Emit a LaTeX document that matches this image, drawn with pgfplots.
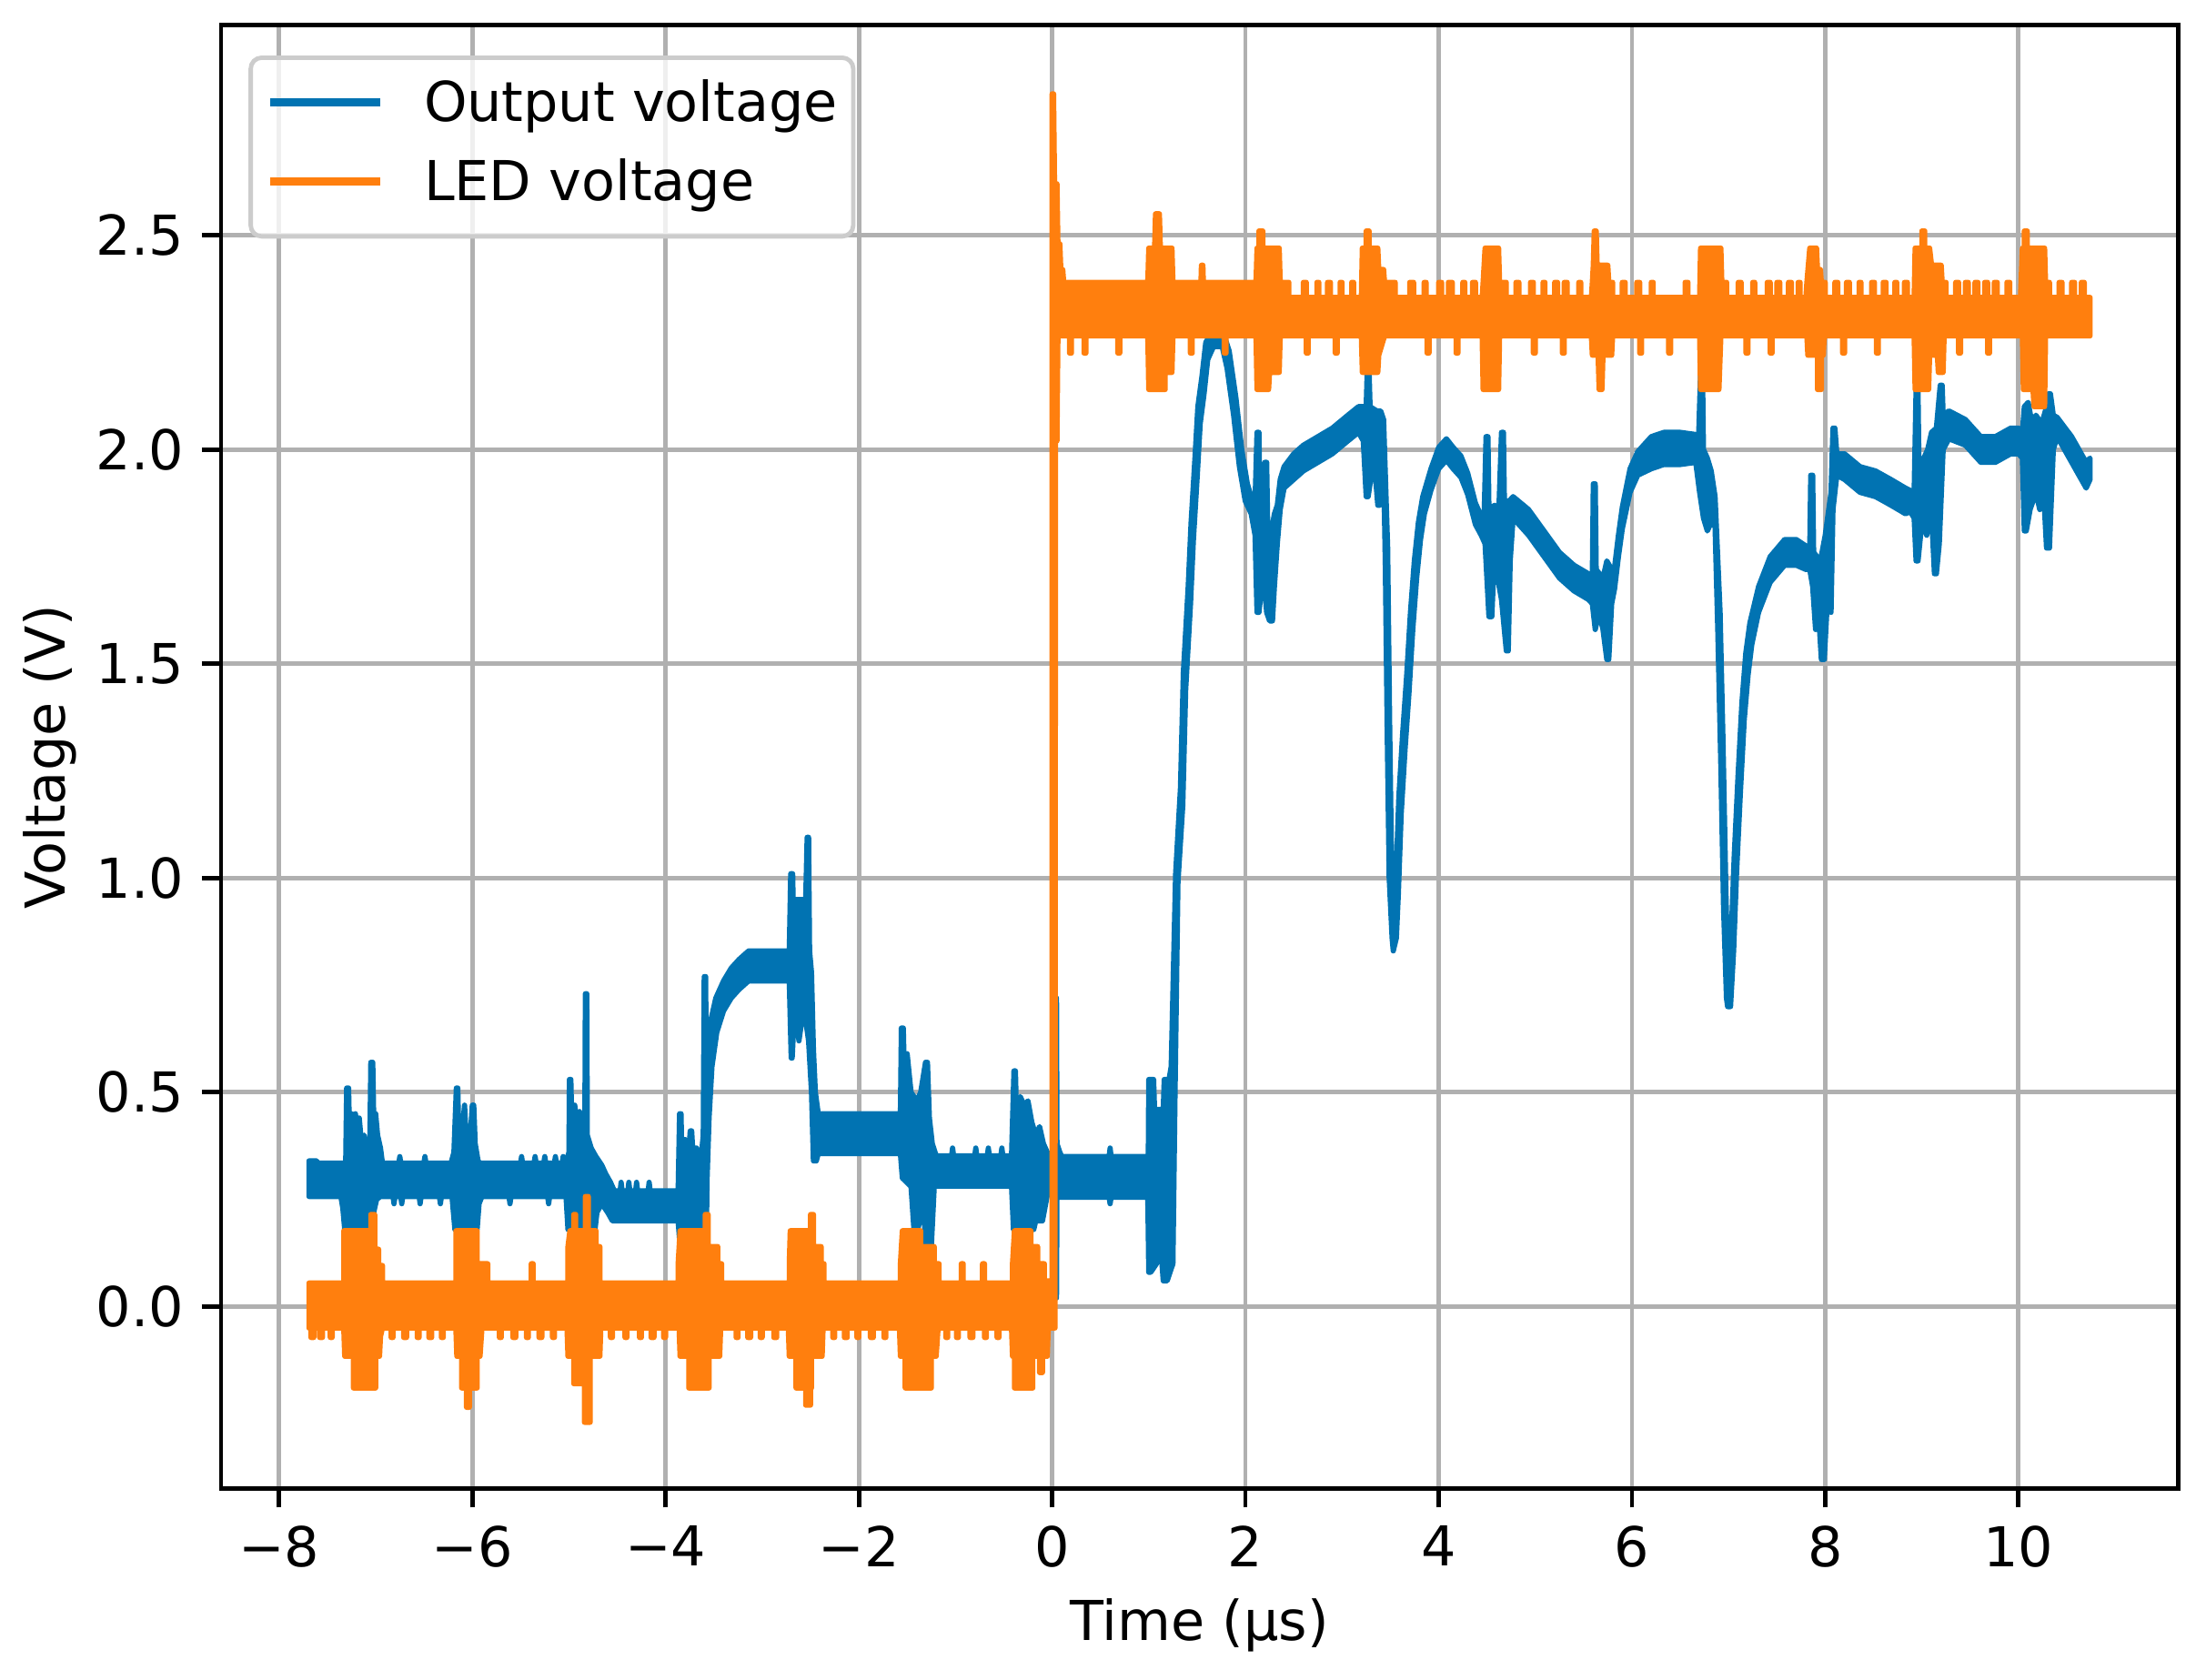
\documentclass[border=0pt]{standalone}
\usepackage{fontspec}
\setmainfont{DejaVu Sans}
\usepackage{pgfplots}
\pgfplotsset{compat=1.18}
\definecolor{cblue}{HTML}{0173B2}
\definecolor{corange}{HTML}{FF7F0E}
\definecolor{gridgray}{HTML}{B0B0B0}
\definecolor{legendgray}{HTML}{CCCCCC}
\begin{document}
\fontsize{10pt}{12pt}\selectfont
\begin{tikzpicture}
\path[use as bounding box] (-40.2pt,-34.8pt) rectangle (361.0pt,270.7pt);
\begin{axis}[
  at={(0,0)}, anchor=south west,
  width=355.9pt, height=266.1pt, scale only axis,
  xmin=-8.6, xmax=11.65, ymin=-0.424, ymax=2.99,
  xtick={-8,-6,-4,-2,0,2,4,6,8,10},
  xticklabels={−8,−6,−4,−2,0,2,4,6,8,10},
  ytick={0,0.5,1,1.5,2,2.5},
  yticklabels={0.0,0.5,1.0,1.5,2.0,2.5},
  xtick pos=bottom, ytick pos=left,
  tick align=outside, major tick length=3.5pt,
  tick style={black, line width=0.8pt},
  axis line style={black, line width=0.8pt},
  grid=major, major grid style={gridgray, line width=0.8pt},
  ticklabel style={font=\fontsize{10pt}{12pt}\selectfont},
  xticklabel style={inner sep=0pt, anchor=north, yshift=-3.2pt},
  yticklabel style={inner sep=0pt, anchor=east, xshift=-3.1pt},
  xlabel={Time (μs)},
  ylabel={Voltage (V)},
  xlabel style={at={([yshift=-27.6pt]axis description cs:0.5,0)}, anchor=base, inner sep=0pt, font=\fontsize{10pt}{12pt}\selectfont},
  ylabel style={at={([xshift=-28.4pt]axis description cs:0,0.5)}, anchor=base, inner sep=0pt, font=\fontsize{10pt}{12pt}\selectfont},
  legend image code/.code={\draw[#1] (0pt,3.5pt) -- (20pt,3.5pt);},
  legend cell align=left,
  legend style={at={(axis description cs:0,1)}, anchor=north west, xshift=5pt, yshift=-5.5pt,
    draw=legendgray, line width=0.8pt, rounded corners=2pt, fill=white, fill opacity=0.8, text opacity=1,
    inner xsep=2.8pt, inner ysep=4.15pt, row sep=4.4pt, column sep=7.2pt,
    nodes={inner sep=0pt, text height=7.5pt, text depth=2.4pt, anchor=base west},
    font=\fontsize{10pt}{12pt}\selectfont},
]
% ---------- Output voltage (blue): noise band as upper envelope then lower envelope ----------
\addplot[draw=cblue, fill=cblue, line width=0.95pt, line join=round, forget plot] coordinates {
(-7.69,0.34) (-7.61,0.34) (-7.60,0.335) (-7.31,0.335)
(-7.30,0.51) (-7.28,0.51) (-7.27,0.40) (-7.25,0.45) (-7.23,0.40) (-7.21,0.45) (-7.19,0.42) (-7.17,0.44) (-7.15,0.39) (-7.12,0.40) (-7.09,0.37) (-7.06,0.38) (-7.05,0.57) (-7.03,0.57) (-7.02,0.44) (-7.00,0.45) (-6.98,0.40) (-6.95,0.37) (-6.93,0.335)
(-6.76,0.335) (-6.75,0.35) (-6.74,0.335) (-6.50,0.335) (-6.49,0.35) (-6.48,0.335)
(-6.22,0.335) (-6.19,0.36) (-6.165,0.51) (-6.15,0.51) (-6.14,0.40) (-6.10,0.42) (-6.08,0.47) (-6.06,0.38) (-6.02,0.40) (-6.00,0.47) (-5.985,0.47) (-5.97,0.38) (-5.94,0.34) (-5.92,0.335)
(-5.50,0.335) (-5.49,0.35) (-5.48,0.335) (-5.36,0.335) (-5.35,0.35) (-5.34,0.335) (-5.26,0.335) (-5.25,0.35) (-5.24,0.335) (-5.15,0.335) (-5.14,0.35) (-5.13,0.335) (-5.07,0.335) (-5.06,0.35) (-5.05,0.335)
(-5.03,0.335) (-5.00,0.36) (-4.995,0.53) (-4.98,0.53) (-4.97,0.42) (-4.94,0.47) (-4.92,0.43) (-4.89,0.455) (-4.86,0.40) (-4.835,0.42) (-4.83,0.73) (-4.815,0.73) (-4.81,0.40) (-4.77,0.37) (-4.72,0.35) (-4.66,0.33) (-4.62,0.31) (-4.57,0.29) (-4.53,0.27)
(-4.47,0.27) (-4.46,0.29) (-4.45,0.27) (-4.39,0.27) (-4.38,0.29) (-4.37,0.27) (-4.31,0.27) (-4.30,0.29) (-4.29,0.27) (-4.18,0.27) (-4.17,0.29) (-4.16,0.27)
(-3.87,0.27) (-3.855,0.45) (-3.84,0.45) (-3.83,0.33) (-3.80,0.39) (-3.76,0.36) (-3.745,0.41) (-3.73,0.41) (-3.72,0.37) (-3.68,0.37) (-3.64,0.33) (-3.61,0.40) (-3.60,0.77) (-3.585,0.77) (-3.58,0.55) (-3.57,0.62) (-3.53,0.67) (-3.48,0.72) (-3.40,0.76) (-3.32,0.79) (-3.24,0.81) (-3.14,0.83) (-2.72,0.83)
(-2.705,1.01) (-2.685,1.01) (-2.68,0.95) (-2.55,0.95) (-2.535,1.095) (-2.52,1.095) (-2.51,0.83) (-2.49,0.78) (-2.47,0.60) (-2.45,0.50) (-2.42,0.45)
(-1.57,0.45) (-1.56,0.65) (-1.54,0.65) (-1.53,0.55) (-1.50,0.59) (-1.46,0.50) (-1.40,0.48) (-1.36,0.50) (-1.31,0.57) (-1.29,0.57) (-1.27,0.44) (-1.24,0.38) (-1.20,0.352)
(-1.04,0.352) (-1.03,0.37) (-1.02,0.352) (-0.80,0.352) (-0.79,0.37) (-0.78,0.352) (-0.67,0.352) (-0.66,0.37) (-0.65,0.352) (-0.53,0.352) (-0.52,0.37) (-0.51,0.352)
(-0.42,0.352) (-0.395,0.55) (-0.38,0.55) (-0.37,0.46) (-0.33,0.49) (-0.29,0.47) (-0.25,0.48) (-0.21,0.43) (-0.17,0.40) (-0.13,0.42) (-0.09,0.38) (-0.05,0.36) (0.02,0.35)
(0.03,0.72) (0.045,0.72) (0.05,0.38) (0.08,0.36) (0.10,0.35)
(0.59,0.35) (0.60,0.37) (0.61,0.35)
(0.995,0.35) (1.00,0.53) (1.05,0.53) (1.06,0.46) (1.15,0.46) (1.16,0.53) (1.21,0.53)
(1.232,0.56) (1.278,1.01) (1.328,1.21) (1.358,1.48) (1.408,1.68) (1.438,1.83) (1.478,1.98) (1.508,2.10) (1.55,2.17) (1.59,2.25) (1.67,2.28) (1.76,2.28) (1.832,2.23) (1.902,2.12) (1.962,2.00) (2.02,1.92) (2.06,1.89)
(2.10,1.88) (2.12,2.04) (2.14,2.04) (2.15,1.86) (2.18,1.84) (2.20,1.97) (2.22,1.97) (2.23,1.83) (2.27,1.81) (2.30,1.85) (2.33,1.87) (2.36,1.93) (2.40,1.96)
(2.50,1.99) (2.60,2.01) (2.75,2.03) (2.90,2.05) (3.06,2.08) (3.17,2.10) (3.22,2.10)
(3.25,2.10) (3.26,2.18) (3.28,2.18) (3.29,2.10) (3.36,2.09) (3.40,2.09) (3.43,2.07)
(3.472,1.77) (3.492,1.37) (3.512,1.04) (3.535,0.89) (3.545,0.90) (3.558,1.00) (3.588,1.19) (3.628,1.34) (3.668,1.47) (3.708,1.62) (3.748,1.74) (3.79,1.83) (3.835,1.89) (3.92,1.955) (4.0,2.005) (4.08,2.025) (4.15,2.005) (4.23,1.985) (4.30,1.945) (4.38,1.875) (4.44,1.845)
(4.47,1.84) (4.49,2.03) (4.51,2.03) (4.52,1.86) (4.58,1.87) (4.62,1.84) (4.65,2.04) (4.67,2.04) (4.68,1.88) (4.73,1.88) (4.77,1.89)
(4.93,1.86) (5.09,1.81) (5.25,1.76) (5.40,1.73) (5.55,1.71)
(5.59,1.70) (5.60,1.92) (5.62,1.92) (5.63,1.72) (5.70,1.70) (5.74,1.74) (5.79,1.72)
(5.82,1.725) (5.86,1.80) (5.90,1.865) (5.98,1.955) (6.06,1.995) (6.20,2.03) (6.33,2.04) (6.50,2.04) (6.66,2.035) (6.69,2.03)
(6.71,2.18) (6.73,2.18) (6.74,2.00) (6.78,1.98) (6.82,1.95) (6.86,1.89)
(6.912,1.62) (6.942,1.32) (6.972,0.97) (6.995,0.76) (7.005,0.74) (7.028,0.87) (7.058,1.05) (7.098,1.24) (7.138,1.41) (7.178,1.525) (7.22,1.595) (7.31,1.68) (7.43,1.75) (7.58,1.79) (7.70,1.79) (7.80,1.775)
(7.84,1.77) (7.85,1.94) (7.87,1.94) (7.88,1.76) (7.95,1.74) (8.00,1.80) (8.06,1.90) (8.08,2.05) (8.10,2.05) (8.12,1.99)
(8.20,1.99) (8.36,1.96) (8.52,1.95) (8.68,1.93) (8.83,1.91) (8.92,1.90)
(8.94,2.14) (8.96,2.14) (8.97,1.95) (9.02,1.98) (9.06,2.00) (9.10,2.04) (9.15,2.05) (9.19,2.15) (9.21,2.15) (9.22,2.08) (9.28,2.09)
(9.45,2.07) (9.61,2.03) (9.76,2.03) (9.92,2.05) (10.0,2.05)
(10.04,2.04) (10.06,2.10) (10.10,2.11) (10.14,2.06) (10.18,2.08) (10.24,2.06) (10.29,2.10) (10.31,2.13) (10.33,2.13) (10.36,2.08) (10.40,2.075)
(10.55,2.03) (10.65,1.99) (10.70,1.97) (10.74,1.98)
(10.74,1.93) (10.70,1.91) (10.65,1.93) (10.55,1.97) (10.40,2.03)
(10.36,2.00) (10.32,1.77) (10.29,1.77) (10.26,1.90) (10.22,1.86) (10.18,1.90) (10.12,1.86) (10.08,1.81) (10.06,1.81) (10.04,1.98) (10.0,1.99)
(9.92,1.99) (9.76,1.97) (9.61,1.97) (9.45,2.01) (9.28,2.025)
(9.22,2.0) (9.18,1.78) (9.15,1.71) (9.13,1.71) (9.10,1.85) (9.05,1.80) (9.00,1.83) (8.96,1.74) (8.94,1.74) (8.92,1.84) (8.88,1.855)
(8.83,1.85) (8.68,1.87) (8.52,1.89) (8.36,1.90) (8.20,1.93)
(8.12,1.94) (8.08,1.86) (8.06,1.62) (8.03,1.68) (7.99,1.51) (7.96,1.51) (7.93,1.62) (7.90,1.58) (7.87,1.68) (7.84,1.72) (7.80,1.72)
(7.70,1.73) (7.58,1.73) (7.43,1.69) (7.31,1.62) (7.24,1.545) (7.202,1.475) (7.162,1.37) (7.122,1.20) (7.082,1.01) (7.052,0.83) (7.02,0.70) (6.99,0.70) (6.978,0.72) (6.948,0.93) (6.918,1.28) (6.888,1.58) (6.86,1.82)
(6.82,1.83) (6.78,1.81) (6.74,1.84) (6.70,1.90) (6.66,1.97)
(6.50,1.965) (6.33,1.965) (6.20,1.955) (6.06,1.94) (5.98,1.90) (5.90,1.815) (5.86,1.75) (5.82,1.675)
(5.79,1.64) (5.76,1.51) (5.74,1.51) (5.70,1.58) (5.66,1.62) (5.62,1.58) (5.59,1.64) (5.55,1.65)
(5.40,1.67) (5.25,1.70) (5.09,1.75) (4.93,1.80) (4.77,1.84)
(4.74,1.74) (4.72,1.53) (4.70,1.53) (4.65,1.65) (4.61,1.70) (4.57,1.72) (4.55,1.61) (4.52,1.61) (4.48,1.78) (4.44,1.80)
(4.38,1.825) (4.30,1.895) (4.23,1.935) (4.15,1.955) (4.08,1.975) (4.0,1.955) (3.92,1.905) (3.852,1.85) (3.812,1.79) (3.772,1.70) (3.732,1.58) (3.692,1.43) (3.652,1.30) (3.612,1.15) (3.582,0.96) (3.562,0.86) (3.53,0.83) (3.518,0.86) (3.488,1.00) (3.468,1.33) (3.448,1.73) (3.435,1.90)
(3.43,1.98) (3.39,1.87) (3.37,1.87) (3.33,1.98) (3.27,1.89) (3.25,1.89) (3.22,2.02) (3.17,2.04)
(3.06,2.02) (2.90,1.99) (2.75,1.97) (2.60,1.95) (2.50,1.93) (2.40,1.91)
(2.36,1.86) (2.33,1.78) (2.30,1.68) (2.28,1.60) (2.25,1.60) (2.22,1.62) (2.19,1.70) (2.16,1.66) (2.14,1.62) (2.12,1.62) (2.10,1.80) (2.06,1.85)
(1.998,1.88) (1.938,1.96) (1.878,2.08) (1.81,2.19) (1.76,2.24) (1.67,2.24) (1.61,2.21) (1.572,2.13) (1.532,2.06) (1.502,1.94) (1.462,1.79) (1.432,1.64) (1.382,1.44) (1.352,1.17) (1.302,0.99) (1.272,0.50)
(1.25,0.10) (1.19,0.06) (1.15,0.06) (1.12,0.15) (1.08,0.10) (1.02,0.08) (1.00,0.08) (0.99,0.255)
(0.61,0.255) (0.60,0.24) (0.59,0.255) (0.05,0.255)
(0.045,0.02) (0.03,0.02) (0.02,0.28)
(-0.02,0.28) (-0.05,0.26) (-0.10,0.20) (-0.17,0.20) (-0.19,0.18) (-0.40,0.18) (-0.42,0.281)
(-1.20,0.281)
(-1.22,0.28) (-1.25,0.14) (-1.31,0.14) (-1.33,0.24) (-1.39,0.18) (-1.43,0.18) (-1.46,0.28) (-1.55,0.30) (-1.57,0.357)
(-2.42,0.357) (-2.44,0.34) (-2.47,0.34) (-2.49,0.50) (-2.52,0.62) (-2.57,0.70) (-2.62,0.62) (-2.66,0.72) (-2.69,0.58) (-2.70,0.58) (-2.72,0.76)
(-3.14,0.76) (-3.24,0.74) (-3.32,0.72) (-3.40,0.69) (-3.47,0.64) (-3.52,0.56) (-3.55,0.44) (-3.57,0.30) (-3.58,0.14) (-3.85,0.14) (-3.87,0.20)
(-4.55,0.20) (-4.60,0.22) (-4.66,0.24) (-4.71,0.22) (-4.73,0.18) (-5.01,0.18) (-5.03,0.257)
(-5.20,0.257) (-5.21,0.24) (-5.22,0.257) (-5.60,0.257) (-5.61,0.24) (-5.62,0.257)
(-5.90,0.257) (-5.93,0.24) (-5.95,0.18) (-6.18,0.18) (-6.21,0.257)
(-6.32,0.257) (-6.33,0.24) (-6.34,0.257) (-6.53,0.257) (-6.54,0.24) (-6.55,0.257) (-6.72,0.257) (-6.73,0.24) (-6.74,0.257) (-6.80,0.257) (-6.81,0.24) (-6.82,0.257)
(-6.95,0.257) (-6.99,0.25) (-7.02,0.22) (-7.03,0.18) (-7.32,0.18) (-7.34,0.23) (-7.36,0.257) (-7.69,0.257)
} -- cycle;
% ---------- LED voltage (orange) ----------
\addplot[draw=corange, fill=corange, line width=0.95pt, line join=round, forget plot] coordinates {
(-7.69,0.055) (-7.33,0.055)
(-7.33,0.177) (-7.05,0.177) (-7.05,0.215) (-7.01,0.215) (-7.01,0.134) (-6.97,0.134) (-6.97,0.096) (-6.93,0.096) (-6.93,0.055)
(-6.17,0.055)
(-6.17,0.177) (-5.95,0.177) (-5.95,0.10) (-5.84,0.10) (-5.84,0.055)
(-5.39,0.055) (-5.39,0.10) (-5.37,0.10) (-5.37,0.055)
(-5.01,0.055)
(-5.01,0.14) (-4.99,0.177) (-4.95,0.177) (-4.95,0.215) (-4.93,0.215) (-4.93,0.177) (-4.83,0.177) (-4.83,0.257) (-4.80,0.257) (-4.80,0.177) (-4.72,0.177) (-4.72,0.14) (-4.68,0.14) (-4.68,0.055)
(-3.87,0.055)
(-3.87,0.10) (-3.85,0.177) (-3.59,0.177) (-3.59,0.215) (-3.56,0.215) (-3.56,0.14) (-3.46,0.14) (-3.46,0.10) (-3.42,0.10) (-3.42,0.055)
(-2.72,0.055)
(-2.72,0.10) (-2.71,0.177) (-2.50,0.177) (-2.50,0.215) (-2.47,0.215) (-2.47,0.14) (-2.39,0.14) (-2.39,0.10) (-2.36,0.10) (-2.36,0.055)
(-1.57,0.055)
(-1.57,0.10) (-1.55,0.177) (-1.36,0.177) (-1.36,0.14) (-1.22,0.14) (-1.22,0.10) (-1.17,0.10) (-1.17,0.055)
(-0.94,0.055) (-0.94,0.10) (-0.92,0.10) (-0.92,0.055)
(-0.72,0.055) (-0.72,0.10) (-0.70,0.10) (-0.70,0.055)
(-0.41,0.055) (-0.41,0.10) (-0.39,0.177) (-0.22,0.177) (-0.22,0.14) (-0.15,0.14) (-0.15,0.10) (-0.08,0.10) (-0.08,0.06)
(0.0,0.06) (0.0,2.83) (0.015,2.83) (0.025,2.62) (0.05,2.62) (0.06,2.48) (0.08,2.48) (0.09,2.42) (0.11,2.42) (0.12,2.39)
(0.99,2.39)
(1.0,2.47) (1.06,2.47) (1.07,2.55) (1.11,2.55) (1.12,2.47) (1.24,2.47) (1.25,2.39)
(1.54,2.39) (1.545,2.43) (1.56,2.43) (1.565,2.39)
(2.11,2.39) (2.12,2.47) (2.14,2.47) (2.14,2.51) (2.18,2.51) (2.18,2.47) (2.35,2.47) (2.36,2.39)
(2.45,2.39) (2.45,2.355) (2.60,2.355) (2.60,2.39) (2.63,2.39) (2.63,2.355) (2.74,2.355) (2.74,2.39) (2.76,2.39) (2.76,2.355) (2.85,2.355) (2.85,2.39) (2.88,2.39) (2.88,2.355) (2.98,2.355) (2.98,2.39) (3.00,2.39) (3.00,2.355) (3.10,2.355) (3.10,2.39) (3.12,2.39) (3.12,2.355)
(3.20,2.355) (3.21,2.47) (3.25,2.47) (3.25,2.51) (3.28,2.51) (3.28,2.47) (3.37,2.47) (3.38,2.42) (3.43,2.42) (3.44,2.39) (3.55,2.39) (3.55,2.355)
(3.70,2.355) (3.70,2.39) (3.74,2.39) (3.74,2.355) (3.85,2.355) (3.85,2.39) (3.87,2.39) (3.87,2.355) (4.00,2.355) (4.00,2.39) (4.03,2.39) (4.03,2.355) (4.10,2.355) (4.10,2.39) (4.14,2.39) (4.14,2.355) (4.25,2.355) (4.25,2.39) (4.27,2.39) (4.27,2.355) (4.35,2.355) (4.35,2.39) (4.38,2.39) (4.38,2.355)
(4.45,2.355) (4.46,2.39) (4.48,2.47) (4.62,2.47) (4.63,2.39) (4.70,2.39) (4.70,2.355)
(4.80,2.355) (4.80,2.39) (4.83,2.39) (4.83,2.355) (4.95,2.355) (4.95,2.39) (4.98,2.39) (4.98,2.355) (5.08,2.355) (5.08,2.39) (5.10,2.39) (5.10,2.355) (5.20,2.355) (5.20,2.39) (5.23,2.39) (5.23,2.355) (5.30,2.355) (5.30,2.39) (5.33,2.39) (5.33,2.355) (5.45,2.355) (5.45,2.39) (5.47,2.39) (5.47,2.355)
(5.58,2.355) (5.59,2.39) (5.60,2.43) (5.61,2.51) (5.63,2.51) (5.64,2.43) (5.75,2.43) (5.76,2.39) (5.80,2.39) (5.80,2.355)
(5.90,2.355) (5.90,2.39) (5.93,2.39) (5.93,2.355) (6.05,2.355) (6.05,2.39) (6.08,2.39) (6.08,2.355) (6.20,2.355) (6.20,2.39) (6.22,2.39) (6.22,2.355) (6.55,2.355) (6.55,2.39) (6.58,2.39) (6.58,2.355)
(6.70,2.355) (6.71,2.47) (6.92,2.47) (6.93,2.39) (6.98,2.39) (6.98,2.355)
(7.10,2.355) (7.10,2.39) (7.13,2.39) (7.13,2.355) (7.25,2.355) (7.25,2.39) (7.27,2.39) (7.27,2.355) (7.40,2.355) (7.40,2.39) (7.43,2.39) (7.43,2.355) (7.50,2.355) (7.50,2.39) (7.53,2.39) (7.53,2.355) (7.62,2.355) (7.62,2.39) (7.65,2.39) (7.65,2.355) (7.72,2.355) (7.72,2.39) (7.74,2.39) (7.74,2.355)
(7.80,2.355) (7.81,2.39) (7.84,2.47) (7.91,2.47) (7.92,2.42) (7.95,2.42) (7.96,2.39) (8.00,2.39) (8.00,2.355)
(8.10,2.355) (8.10,2.39) (8.13,2.39) (8.13,2.355) (8.22,2.355) (8.22,2.39) (8.25,2.39) (8.25,2.355) (8.35,2.355) (8.35,2.39) (8.37,2.39) (8.37,2.355) (8.48,2.355) (8.48,2.39) (8.51,2.39) (8.51,2.355) (8.60,2.355) (8.60,2.39) (8.63,2.39) (8.63,2.355) (8.72,2.355) (8.72,2.39) (8.74,2.39) (8.74,2.355) (8.82,2.355) (8.82,2.39) (8.85,2.39) (8.85,2.355)
(8.92,2.355) (8.93,2.47) (9.00,2.47) (9.00,2.51) (9.03,2.51) (9.03,2.47) (9.08,2.47) (9.10,2.43) (9.20,2.43) (9.21,2.39) (9.25,2.39) (9.25,2.355)
(9.35,2.355) (9.35,2.39) (9.38,2.39) (9.38,2.355) (9.45,2.355) (9.45,2.39) (9.48,2.39) (9.48,2.355) (9.55,2.355) (9.55,2.39) (9.58,2.39) (9.58,2.355) (9.65,2.355) (9.65,2.39) (9.68,2.39) (9.68,2.355) (9.75,2.355) (9.75,2.39) (9.78,2.39) (9.78,2.355) (9.88,2.355) (9.88,2.39) (9.91,2.39) (9.91,2.355)
(10.02,2.355) (10.04,2.47) (10.06,2.47) (10.06,2.51) (10.09,2.51) (10.09,2.47) (10.27,2.47) (10.28,2.39) (10.32,2.39) (10.32,2.355)
(10.42,2.355) (10.42,2.39) (10.45,2.39) (10.45,2.355) (10.55,2.355) (10.55,2.39) (10.58,2.39) (10.58,2.355) (10.65,2.355) (10.65,2.39) (10.68,2.39) (10.68,2.355) (10.74,2.355)
(10.74,2.265)
(10.28,2.265) (10.27,2.10) (10.16,2.10) (10.15,2.14) (10.05,2.14) (10.04,2.265)
(9.70,2.265) (9.70,2.225) (9.68,2.225) (9.68,2.265) (9.40,2.265) (9.40,2.225) (9.38,2.225) (9.38,2.265)
(9.23,2.265) (9.22,2.18) (9.17,2.18) (9.16,2.22) (9.08,2.22) (9.07,2.14) (8.93,2.14) (8.92,2.265)
(8.55,2.265) (8.55,2.225) (8.53,2.225) (8.53,2.265) (8.20,2.265) (8.20,2.225) (8.18,2.225) (8.18,2.265)
(7.99,2.265) (7.98,2.22) (7.96,2.22) (7.96,2.14) (7.92,2.14) (7.92,2.22) (7.82,2.22) (7.81,2.265)
(7.45,2.265) (7.45,2.225) (7.43,2.225) (7.43,2.265) (7.20,2.265) (7.20,2.225) (7.18,2.225) (7.18,2.265)
(6.92,2.265) (6.90,2.14) (6.71,2.14) (6.70,2.265)
(6.40,2.265) (6.40,2.225) (6.38,2.225) (6.38,2.265) (6.10,2.265) (6.10,2.225) (6.08,2.225) (6.08,2.265)
(5.80,2.265) (5.79,2.22) (5.70,2.22) (5.69,2.14) (5.66,2.14) (5.65,2.22) (5.59,2.22) (5.58,2.265)
(5.30,2.265) (5.30,2.225) (5.28,2.225) (5.28,2.265) (5.00,2.265) (5.00,2.225) (4.98,2.225) (4.98,2.265)
(4.63,2.265) (4.62,2.14) (4.46,2.14) (4.45,2.265)
(4.20,2.265) (4.20,2.225) (4.18,2.225) (4.18,2.265) (3.90,2.265) (3.90,2.225) (3.88,2.225) (3.88,2.265)
(3.44,2.265) (3.38,2.22) (3.37,2.18) (3.21,2.18) (3.20,2.265)
(2.95,2.265) (2.95,2.225) (2.93,2.225) (2.93,2.265) (2.65,2.265) (2.65,2.225) (2.63,2.225) (2.63,2.265)
(2.36,2.265) (2.35,2.18) (2.25,2.18) (2.24,2.14) (2.12,2.14) (2.11,2.265)
(1.80,2.265) (1.80,2.225) (1.78,2.225) (1.78,2.265) (1.45,2.265) (1.45,2.225) (1.43,2.225) (1.43,2.265)
(1.25,2.265) (1.24,2.18) (1.17,2.18) (1.17,2.14) (1.00,2.14) (0.99,2.265)
(0.70,2.265) (0.70,2.225) (0.68,2.225) (0.68,2.265) (0.35,2.265) (0.35,2.225) (0.33,2.225) (0.33,2.265) (0.20,2.265) (0.20,2.225) (0.18,2.225) (0.18,2.265)
(0.06,2.265) (0.05,2.02) (0.035,2.02) (0.03,-0.05)
(-0.04,-0.05) (-0.05,-0.116) (-0.10,-0.116) (-0.10,-0.154) (-0.13,-0.154) (-0.13,-0.116) (-0.20,-0.116) (-0.20,-0.19) (-0.39,-0.19) (-0.39,-0.116) (-0.41,-0.116) (-0.42,-0.05)
(-0.55,-0.05) (-0.55,-0.072) (-0.57,-0.072) (-0.57,-0.05) (-0.68,-0.05) (-0.68,-0.072) (-0.70,-0.072) (-0.70,-0.05) (-0.82,-0.05) (-0.82,-0.072) (-0.85,-0.072) (-0.85,-0.05) (-0.97,-0.05) (-0.97,-0.072) (-0.99,-0.072) (-0.99,-0.05) (-1.08,-0.05) (-1.08,-0.072) (-1.10,-0.072) (-1.10,-0.05)
(-1.18,-0.05) (-1.20,-0.116) (-1.25,-0.116) (-1.25,-0.19) (-1.52,-0.19) (-1.52,-0.116) (-1.57,-0.116) (-1.58,-0.05)
(-1.72,-0.05) (-1.72,-0.072) (-1.74,-0.072) (-1.74,-0.05) (-1.85,-0.05) (-1.85,-0.072) (-1.88,-0.072) (-1.88,-0.05) (-2.00,-0.05) (-2.00,-0.072) (-2.02,-0.072) (-2.02,-0.05) (-2.12,-0.05) (-2.12,-0.072) (-2.15,-0.072) (-2.15,-0.05) (-2.25,-0.05) (-2.25,-0.072) (-2.27,-0.072) (-2.27,-0.05)
(-2.37,-0.05) (-2.38,-0.116) (-2.49,-0.116) (-2.49,-0.19) (-2.50,-0.19) (-2.50,-0.23) (-2.55,-0.23) (-2.55,-0.19) (-2.65,-0.19) (-2.65,-0.116) (-2.72,-0.116) (-2.73,-0.05)
(-2.85,-0.05) (-2.85,-0.072) (-2.88,-0.072) (-2.88,-0.05) (-3.00,-0.05) (-3.00,-0.072) (-3.02,-0.072) (-3.02,-0.05) (-3.12,-0.05) (-3.12,-0.072) (-3.15,-0.072) (-3.15,-0.05) (-3.25,-0.05) (-3.25,-0.072) (-3.27,-0.072) (-3.27,-0.05)
(-3.43,-0.05) (-3.44,-0.116) (-3.55,-0.116) (-3.55,-0.19) (-3.76,-0.19) (-3.76,-0.116) (-3.85,-0.116) (-3.86,-0.05)
(-4.00,-0.05) (-4.00,-0.072) (-4.02,-0.072) (-4.02,-0.05) (-4.12,-0.05) (-4.12,-0.072) (-4.15,-0.072) (-4.15,-0.05) (-4.25,-0.05) (-4.25,-0.072) (-4.27,-0.072) (-4.27,-0.05) (-4.40,-0.05) (-4.40,-0.072) (-4.42,-0.072) (-4.42,-0.05) (-4.55,-0.05) (-4.55,-0.072) (-4.57,-0.072) (-4.57,-0.05)
(-4.67,-0.05) (-4.68,-0.116) (-4.78,-0.116) (-4.78,-0.27) (-4.84,-0.27) (-4.84,-0.18) (-4.95,-0.18) (-4.95,-0.116) (-5.01,-0.116) (-5.02,-0.05)
(-5.15,-0.05) (-5.15,-0.072) (-5.17,-0.072) (-5.17,-0.05) (-5.28,-0.05) (-5.28,-0.072) (-5.31,-0.072) (-5.31,-0.05) (-5.42,-0.05) (-5.42,-0.072) (-5.44,-0.072) (-5.44,-0.05) (-5.55,-0.05) (-5.55,-0.072) (-5.58,-0.072) (-5.58,-0.05) (-5.70,-0.05) (-5.70,-0.072) (-5.72,-0.072) (-5.72,-0.05)
(-5.90,-0.05) (-5.92,-0.116) (-5.95,-0.116) (-5.95,-0.19) (-6.03,-0.19) (-6.03,-0.235) (-6.06,-0.235) (-6.06,-0.19) (-6.11,-0.19) (-6.11,-0.116) (-6.16,-0.116) (-6.17,-0.05)
(-6.30,-0.05) (-6.30,-0.072) (-6.32,-0.072) (-6.32,-0.05) (-6.42,-0.05) (-6.42,-0.072) (-6.45,-0.072) (-6.45,-0.05) (-6.55,-0.05) (-6.55,-0.072) (-6.57,-0.072) (-6.57,-0.05) (-6.68,-0.05) (-6.68,-0.072) (-6.71,-0.072) (-6.71,-0.05) (-6.82,-0.05) (-6.82,-0.072) (-6.84,-0.072) (-6.84,-0.05)
(-6.93,-0.05) (-6.95,-0.07) (-6.96,-0.116) (-7.00,-0.116) (-7.00,-0.19) (-7.23,-0.19) (-7.23,-0.116) (-7.32,-0.116) (-7.33,-0.05)
(-7.45,-0.05) (-7.45,-0.072) (-7.47,-0.072) (-7.47,-0.05) (-7.55,-0.05) (-7.55,-0.072) (-7.58,-0.072) (-7.58,-0.05) (-7.64,-0.05) (-7.64,-0.072) (-7.67,-0.072) (-7.67,-0.05)
(-7.69,-0.05)
} -- cycle;
\addlegendimage{cblue, line width=1.5pt}
\addlegendentry{Output voltage}
\addlegendimage{corange, line width=1.5pt}
\addlegendentry{LED voltage}
\end{axis}
\end{tikzpicture}
\end{document}
